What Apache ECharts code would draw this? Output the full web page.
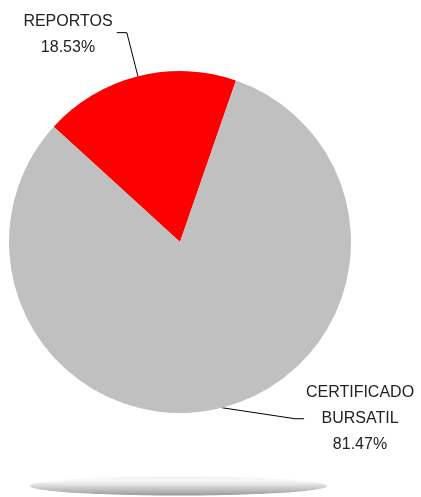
<!DOCTYPE html>
<html>
<head>
<meta charset="utf-8">
<script src="https://cdn.jsdelivr.net/npm/echarts@6/dist/echarts.min.js"></script>
<style>html,body{margin:0;padding:0;background:#fff;}#c{width:421px;height:497px;}</style>
</head>
<body>
<div id="c"></div>
<script>
const categories = ['REPORTOS', 'CERTIFICADO\nBURSATIL'];
const values = [18.53, 81.47];
const colors = ['#FF0000', '#C0C0C0'];

const chart = echarts.init(document.getElementById('c'), null, {renderer: 'canvas'});
chart.setOption({
  animation: false,
  backgroundColor: '#ffffff',
  graphic: [{
    type: 'ellipse',
    shape: {cx: 178.5, cy: 486, rx: 148.5, ry: 9.5},
    style: {
      fill: new echarts.graphic.LinearGradient(0, 0, 0, 1, [
        {offset: 0, color: '#f2f2f2'},
        {offset: 0.25, color: '#f8f8f8'},
        {offset: 1, color: '#9a9a9a'}
      ])
    },
    z: -1
  }],
  series: [{
    type: 'pie',
    center: [180, 242],
    radius: [0, 171],
    startAngle: 137.6,
    clockwise: true,
    data: categories.map((c, i) => ({name: c, value: values[i], itemStyle: {color: colors[i]}})),
    itemStyle: {borderWidth: 0},
    emphasis: {disabled: true},
    label: {
      show: true,
      position: 'outside',
      formatter: p => p.name + '\n' + p.value.toFixed(2) + '%',
      fontFamily: '"Liberation Sans Narrow", "Liberation Sans", Arial, sans-serif',
      fontSize: 16,
      lineHeight: 26,
      color: '#222'
    },
    labelLine: {show: true, length: 45, length2: 10, lineStyle: {color: '#000', width: 1}},
    labelLayout: function (params) {
      const p = params.labelLinePoints;
      if (params.dataIndex === 0) {
        return {
          x: 68, y: 35, align: 'center', verticalAlign: 'middle',
          labelLinePoints: p ? [p[0], p[1], [p[1][0] - 10, p[1][1]]] : undefined
        };
      } else {
        return {
          x: 360, y: 419, align: 'center', verticalAlign: 'middle',
          labelLinePoints: p ? [p[0], [p[0][0] + 73, p[0][1] + 11], [p[0][0] + 82, p[0][1] + 11]] : undefined
        };
      }
    }
  }]
});
</script>
</body>
</html>
